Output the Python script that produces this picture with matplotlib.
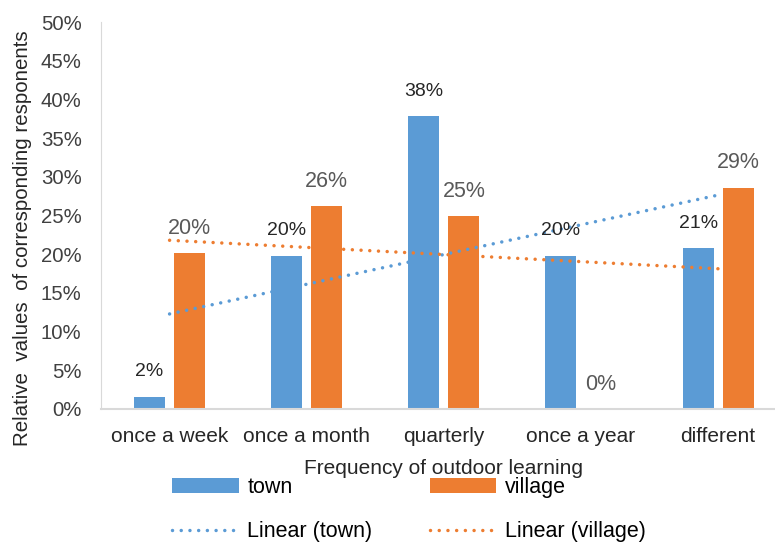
import numpy as np
import matplotlib
matplotlib.use("Agg")
import matplotlib.pyplot as plt

plt.rcParams['font.family'] = ['Liberation Sans', 'DejaVu Sans']

categories = ['once a week', 'once a month', 'quarterly', 'once a year', 'different']
town = [1.6, 19.8, 37.8, 19.8, 20.8]
village = [20.1, 26.2, 24.9, 0.0, 28.6]
town_labels = ['2%', '20%', '38%', '20%', '21%']
village_labels = ['20%', '26%', '25%', '0%', '29%']

blue = '#5B9BD5'
orange = '#ED7D31'

fig = plt.figure(figsize=(7.75, 5.43), dpi=100)
ax = fig.add_axes([101 / 775, 134 / 543, 685.7 / 775, 387 / 543])

x = np.arange(len(categories))
w = 0.226
off = 0.146
ax.bar(x - off, town, width=w, color=blue, label='town', zorder=2)
ax.bar(x + off, village, width=w, color=orange, label='village', zorder=2)

# linear trendlines (least squares fit, like Excel)
dots = dict(linestyle=(0, (0.01, 2.5)), dash_capstyle='round', linewidth=2.5, zorder=3)
kt = np.polyfit(x, town, 1)
kv = np.polyfit(x, village, 1)
ax.plot(x, np.polyval(kt, x), color=blue, label='Linear (town)', **dots)
ax.plot(x, np.polyval(kv, x), color=orange, label='Linear (village)', **dots)

for i in range(len(x)):
    ax.annotate(town_labels[i], (x[i] - off, town[i]), xytext=(0, 18),
                textcoords='offset points', ha='center', va='center',
                fontsize=14, color='#262626')
    ax.annotate(village_labels[i], (x[i] + off, village[i]), xytext=(0, 18),
                textcoords='offset points', ha='center', va='center',
                fontsize=15.5, color='#595959')

ax.set_xlim(-0.5, 4.5)
ax.set_ylim(0, 50)
ax.set_yticks(np.arange(0, 51, 5))
ax.set_yticklabels([f'{v}%' for v in range(0, 51, 5)])
ax.set_xticks(x)
ax.set_xticklabels(categories)
ax.tick_params(axis='y', length=0, pad=14, labelsize=14.7, labelcolor='#404040')
ax.tick_params(axis='x', length=0, pad=13, labelsize=15, labelcolor='#262626')

for s in ['top', 'right']:
    ax.spines[s].set_visible(False)
ax.spines['left'].set_color('#d9d9d9')
ax.spines['bottom'].set_color('#d9d9d9')
ax.spines['bottom'].set_linewidth(1.5)

ax.set_xlabel('Frequency of outdoor learning', fontsize=15, color='#262626', va='center')
ax.xaxis.set_label_coords(0.5, -0.155)
ax.set_ylabel('Relative  values  of corresponding responents', fontsize=14.8,
              color='#262626', va='center')
ax.yaxis.set_label_coords(-0.115, 0.442)

h, l = ax.get_legend_handles_labels()
order = [2, 0, 3, 1]
fig.legend([h[i] for i in order], [l[i] for i in order], ncol=2,
           loc='center', bbox_to_anchor=(409 / 775, 1 - 509.5 / 543),
           frameon=False, fontsize=15.5, handlelength=3.1, handletextpad=0.4,
           columnspacing=2.65, labelspacing=1.1, borderpad=0)

fig.savefig('out.png', dpi=100)
